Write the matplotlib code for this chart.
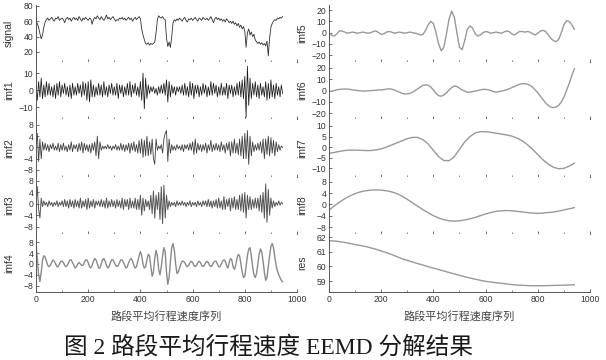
"""EEMD decomposition of road-segment mean travel speed (fig. 2 re-draw)."""
import matplotlib
matplotlib.use("Agg")
import matplotlib.pyplot as plt
import matplotlib.ticker as mticker
import numpy as np

# --- data ---------------------------------------------------------------
# left column: dense series sampled every 5 points
STEP_DENSE = 5
signal = [
    60, 57, 52, 44, 37, 42, 52, 59, 62, 64,
    61, 63, 65, 62, 60, 64, 63, 66, 61, 63,
    64, 62, 58, 63, 65, 62, 64, 60, 63, 65,
    62, 64, 61, 66, 63, 60, 64, 62, 65, 63,
    61, 64, 63, 56, 62, 65, 63, 67, 64, 62,
    66, 63, 61, 64, 68, 63, 65, 62, 64, 66,
    63, 60, 62, 61, 64, 63, 65, 62, 64, 61,
    63, 65, 62, 64, 60, 63, 65, 62, 64, 66,
    63, 50, 42, 36, 31, 30, 32, 29, 31, 30,
    31, 33, 45, 62, 67, 65, 64, 66, 63, 62,
    38, 27, 33, 26, 40, 58, 62, 60, 63, 61,
    64, 62, 60, 63, 65, 61, 59, 63, 62, 64,
    61, 63, 65, 62, 60, 64, 63, 61, 65, 63,
    62, 64, 61, 63, 66, 62, 58, 63, 65, 62,
    64, 61, 63, 60, 62, 59, 63, 61, 58, 60,
    57, 60, 56, 58, 54, 57, 52, 55, 50, 53,
    47, 26, 45, 50, 42, 46, 40, 43, 36, 33,
    31, 33, 30, 32, 29, 31, 28, 34, 15, 38,
    52, 57, 60, 62, 61, 64, 63, 65, 64, 66,
]
imf1 = [
    3, -6, 5, -4, 7, -5, 3, -4, 5, -3,
    4, -3, 2, -4, 3, -5, 4, -3, 5, -4,
    3, -2, 4, -3, 2, -4, 3, -5, 4, -3,
    2, -3, 4, -2, 3, -4, 5, -3, 4, -6,
    5, -7, 6, -4, 3, -4, 2, -3, 4, -3,
    3, -4, 5, -3, 2, -4, 3, -2, 4, -3,
    2, -3, 4, -5, 3, -2, 3, -4, 2, -3,
    4, -3, 5, -4, 3, -2, 4, -3, 2, -4,
    5, -6, 10, -11, 7, -5, 3, -2, 2, -1,
    2, -2, 1, -3, 2, -2, 3, -2, 4, -3,
    6, -7, 5, -4, 3, -2, 2, -3, 2, -1,
    2, -2, 3, -3, 4, -3, 2, -4, 5, -3,
    4, -5, 3, -2, 3, -4, 2, -3, 4, -2,
    3, -4, 2, -3, 5, -3, 4, -2, 3, -4,
    2, -3, 4, -3, 2, -3, 4, -5, 3, -2,
    3, -4, 2, -3, 4, -3, 5, -4, 6, -5,
    8, -16, 14, -9, 7, -5, 4, -3, 5, -4,
    3, -5, 4, -3, 2, -4, 5, -6, 4, -5,
    6, -4, 3, -5, 4, -3, 2, -4, 3, -2,
]
imf2 = [
    0, 5, -5, 3, -4, 2, -1, 1.5, -1, 1,
    -1.5, 1, -0.5, 1.5, -1, 0.5, -1, 1.5, -1.5, 1,
    -1, 1.5, -1, 0.5, -1.5, 1, -1, 2, -1.5, 1,
    -0.5, 1, -1.5, 1.5, -1, 2, -2, 1.5, -1, 1,
    -1.5, 1, -2, 1.5, -1, 2, -3, 4, -4, 2,
    -1, 0.5, -0.5, 0.5, -0.5, 1, -0.5, 0.5, -1, 0.5,
    -0.5, 1, -1, 0.5, -1, 1.5, -1, 1, -1.5, 1,
    -1, 1.5, -2, 1.5, -1, 2, -1.5, 1, -2, 2.5,
    -2, 3, -3.5, 2.5, -3, 4, -3, 2, -2.5, 3,
    -4, -6, 3, -1, 0.5, -0.5, 1, -2, 3, 5,
    6, -5, 3, -2, 1, -1, 0.5, -1, 1, -0.5,
    0.5, -1, 1, -1.5, 1, -0.5, 1, -1, 1.5, -1,
    2, -2.5, 3, -2, 1.5, -1, 1, -1.5, 1, -1,
    1.5, -2, 1, -1, 2.5, -1.5, 1, -1, 1.5, -1,
    1, -1.5, 2, -1, 1, -2, 1.5, -1, 2, -3,
    2, -2, 3, -2, 1.5, -2.5, 3, -3, 4, -4,
    5, -4, 6, -6, 4, -3, 2, -1.5, 1, -1,
    1.5, -1, 2, -2, 3, -4, 3, -2.5, 4, -3,
    3.5, -2, 2.5, -3, 2, -1.5, 1, -1, 0.5, 0,
]
imf3 = [
    0, 6, -2, -5, 2, -1, 1, -0.5, 0.5, -1,
    1, -0.5, 0.5, -1, 0.5, -0.5, 1, -1, 0.5, -0.5,
    1, -1, 1.5, -1, 1, -1.5, 1.5, -1, 1, -1.5,
    1.5, -1, 1, -1.5, 2, -1.5, 1, -1, 1.5, -2,
    2, -1.5, 1, -1, 1.5, -1.5, 1, -0.5, 1, -1,
    1.5, -1, 1, -1.5, 2, -1.5, 1, -1, 1.5, -1,
    1, -1.5, 1.5, -1, 1, -1.5, 2, -2, 1.5, -1,
    1.5, -2, 2, -1.5, 1, -1.5, 2, -2, 1.5, -2,
    3, -4, 2, -2.5, 1.5, -1, 1, -2, 3, -3.5,
    4.5, -5, 3, -2, 4, -5.5, 6, -7, 6.5, -5,
    3, -2, 1, -1, 0.5, -0.5, 0.5, -1, 1, -0.5,
    0.5, -0.5, 1, -0.5, 0.5, -1, 0.5, -0.5, 1, -1,
    0.5, -0.5, 0.5, -1, 1, -0.5, 0.5, -1, 1, -0.5,
    1, -1, 1.5, -1, 1, -1.5, 1, -1, 1.5, -1.5,
    2, -1.5, 1, -2, 2.5, -2, 1.5, -1, 2, -2.5,
    2, -1.5, 2.5, -2, 1.5, -2, 3, -2.5, 3.5, -3,
    4, -5, 3, -2, 2.5, -2, 1.5, -1.5, 2, -1.5,
    2, -2.5, 3, -3, 4, -5, 7, -6.5, 5, -4,
    2, -1.5, 1, -1, 0.5, -0.5, 1, -0.5, 0.5, 0,
]
imf4 = [
    7, 2, -4, -6.5, -3, 1.5, 3, 2.5, 1, -0.5,
    -1, -0.5, 0.5, 1.5, 1, 0, -1, -1, 0, 1,
    1, 0.5, -0.5, -1, -0.5, 0.5, 1.5, 1.5, 0.5, -0.5,
    -1.5, -1, 0, 0.5, 0, -0.5, -0.5, 0.5, 1.5, 1.5,
    0.5, -1, -1.5, -0.5, 1, 2, 1.5, 0, -1.5, -1.5,
    0, 1.5, 2, 1, -0.5, -1.5, -1, 0.5, 1.5, 1.5,
    0.5, -0.5, -1, -0.5, 0.5, 1.5, 1.5, 0.5, -0.5, -1.5,
    -1, 0.5, 1.5, 2, 1, -0.5, -1.5, -1, 1, 3,
    4.5, 3, 0, -1.5, -1, 1.5, 3.5, 3, -1, -4.5,
    -3, 2, 5, 3, -2, -4, -1, 3, 6, 4.5,
    -3, -7.5, -5, 1, 6, 7.5, 5, 0, -3.5, -3,
    -1.5, 0, 1, 1, 0.5, -0.5, -1, -0.5, 0.5, 1,
    0.5, -0.5, -1, -0.5, 0.5, 1, 0.5, -0.5, -1, -0.5,
    0.5, 1, 0.5, -0.5, -1, -0.5, 0.5, 1, 1, 0,
    -1, -1, 0, 1, 1.5, 1, -0.5, -1.5, 0.5, 2,
    1.5, -1, -2, -0.5, 2, 3.5, 3, 0, -3, -5,
    -4.5, -1, 3, 5.5, 6, 3, -1, -4, -5, -3.5,
    0, 3.5, 5.5, 4.5, 1, -3, -6, -5, -1, 3,
    6.5, 7.5, 6, 2.5, -0.5, -2.5, -4, -5, -6, -6.5,
]

# right column: smooth components
STEP_MID = 10
imf5 = [
    0, -2.5, -3, -1, 1.5, 1.5, 0.5, -0.5, 0, 0.5,
    0, -0.5, 0, 0.5, 0, -0.5, 0, 1, 1.5, 0,
    -1.5, -1, 0.5, 1, 0.5, -0.5, 0, 0.5, 0, -0.5,
    0, 0.5, 0, -0.5, -1, -2, -1.5, 2, 7, 10,
    8, 0, -10, -16, -13, -1, 12, 19, 14, 0,
    -13, -15, -7, 3, 6, 4, -1, -3, -2, 0,
    1, 0.5, -0.5, 0, 0.5, 0, -0.5, 0.5, 1.5, 1,
    -1, -2, -0.5, 1, 1, 0.5, 1, 0.5, -1, -2,
    -0.5, 1.5, 2, 1, -2, -5, -7, -8, -6, 0,
    7, 10.5, 10, 7, 3,
]
imf6 = [
    -1, -0.5, 0, 0.5, 1, 1.2, 1.3, 1.2, 1, 0.5,
    0.2, 0, -0.3, -0.5, -0.5, -0.3, 0, 0, 0.2, 0.5,
    0.5, 0.8, 1.2, 1.5, 1.2, 0.5, -0.5, -1.5, -2.5, -3,
    -3, -2.5, -1.5, 0, 1.5, 3, 4.5, 5, 4.5, 3,
    0.5, -2.5, -4.5, -5, -4, -2, 0.5, 2.5, 4, 3.5,
    2, 0.5, -0.5, -1.5, -1.5, -1, -0.5, 0, 0.5, 1,
    1, 0.5, 0, -1, -1.5, -1, -0.5, 0, 0.5, 1.5,
    2.5, 3.5, 4.5, 5.5, 6, 6, 5.5, 4.5, 3, 0.5,
    -2, -5, -8, -11, -13, -14.5, -15, -14.5, -13, -10,
    -6, 0, 6, 13, 19,
]
STEP_SLOW = 20
imf7 = [
    -3, -2.5, -2, -1.6, -1.4, -1.4, -1.5, -1.6, -1.6, -1.3,
    -0.8, 0, 1, 2, 3, 4, 4.6, 4.6, 3.5, 1.5,
    -1.5, -4.5, -6.3, -6.4, -4.5, -1, 2.5, 5, 6.7, 7.3,
    7.3, 7, 6.6, 6.2, 5.8, 5.2, 4.3, 3, 1.2, -1,
    -3.5, -6, -8, -9.5, -10.2, -10, -9, -7.6,
]
imf8 = [
    -2, -0.5, 0.8, 2, 3, 3.8, 4.4, 4.8, 5, 5.1,
    5, 4.8, 4.4, 3.8, 2.9, 1.8, 0.6, -0.6, -1.8, -2.9,
    -3.9, -4.7, -5.3, -5.7, -5.8, -5.7, -5.4, -5, -4.5, -3.9,
    -3.3, -2.8, -2.4, -2.2, -2.1, -2.2, -2.4, -2.6, -2.8, -3,
    -3.1, -3, -2.8, -2.6, -2.3, -1.9, -1.5, -1.1,
]
res = [
    61.77, 61.75, 61.71, 61.65, 61.58, 61.50, 61.44, 61.37, 61.28, 61.18,
    61.07, 60.95, 60.82, 60.68, 60.53, 60.42, 60.31, 60.20, 60.10, 59.99,
    59.89, 59.79, 59.69, 59.59, 59.49, 59.39, 59.30, 59.21, 59.13, 59.05,
    58.98, 58.93, 58.89, 58.85, 58.80, 58.76, 58.73, 58.71, 58.69, 58.68,
    58.68, 58.68, 58.69, 58.70, 58.71, 58.72, 58.73, 58.75,
]

X_LABEL = "路段平均行程速度序列"
CAPTION = "图 2 路段平均行程速度 EEMD 分解结果"

# (name, values, step, yticks, ylim, colour, linewidth)
LEFT = [
    ("signal", signal, STEP_DENSE, [20, 40, 60, 80], (7, 81), "#303030", 0.6),
    ("imf1", imf1, STEP_DENSE, [-10, 0, 10], (-17, 16.5), "#1a1a1a", 0.55),
    ("imf2", imf2, STEP_DENSE, [-8, -4, 0, 4, 8], (-10.5, 10.1), "#404040", 0.6),
    ("imf3", imf3, STEP_DENSE, [-8, -4, 0, 4, 8], (-10.6, 9.4), "#555555", 0.7),
    ("imf4", imf4, STEP_DENSE, [-8, -4, 0, 4, 8], (-10.3, 11), "#8a8a8a", 1.0),
]
RIGHT = [
    ("imf5", imf5, STEP_MID, [-20, -10, 0, 10, 20], (-26, 24.5), "#999999", 1.0),
    ("imf6", imf6, STEP_MID, [-20, -10, 0, 10, 20], (-25, 25), "#999999", 1.0),
    ("imf7", imf7, STEP_SLOW, [-10, -5, 0, 5, 10], (-14.1, 13.3), "#999999", 1.0),
    ("imf8", imf8, STEP_SLOW, [-8, -4, 0, 4, 8], (-10.3, 9.6), "#999999", 1.0),
    ("res", res, STEP_SLOW, [59, 60, 61, 62], (58.25, 62.23), "#999999", 1.0),
]

W, H = 606, 360
ROW_EDGES = [5, 62, 119, 177, 234, 292]   # pixel rows, top to bottom
COL_X = [36, 329]
COL_W = 261
CJK = ["Liberation Sans", "Noto Sans CJK SC"]
CJK_SERIF = ["Liberation Serif", "Noto Sans CJK SC"]


def draw_column(fig, rows, x0):
    axes = []
    for i, (name, vals, step, yt, ylim, color, lw) in enumerate(rows):
        top, bot = ROW_EDGES[i], ROW_EDGES[i + 1]
        ax = fig.add_axes([x0 / W, 1 - bot / H, COL_W / W, (bot - top) / H])
        xs = np.arange(len(vals)) * step
        ax.plot(xs, vals, color=color, linewidth=lw)
        ax.set_xlim(0, 1000)
        ax.set_ylim(*ylim)
        ax.set_yticks(yt)
        ax.xaxis.set_major_locator(mticker.MultipleLocator(200))
        ax.xaxis.set_minor_locator(mticker.MultipleLocator(100))
        for s in ("top", "right"):
            ax.spines[s].set_visible(False)
        for s in ("left", "bottom"):
            ax.spines[s].set_color("#555555")
            ax.spines[s].set_linewidth(0.7)
        ax.tick_params(direction="in", length=2.5, width=0.6, colors="#555555",
                       labelsize=6.2, labelcolor="#333333", pad=2)
        ax.tick_params(which="minor", direction="in", length=1.5, width=0.5,
                       colors="#555555")
        ax.set_ylabel(name, fontsize=7.5, color="#333333")
        ax.yaxis.set_label_coords(-0.085, 0.5)
        if i < len(rows) - 1:
            ax.tick_params(labelbottom=False)
        else:
            ax.set_xlabel(X_LABEL, fontsize=8, color="#444444",
                          family=CJK, labelpad=5)
        axes.append(ax)
    return axes


def main():
    plt.rcParams["font.family"] = ["Liberation Sans", "DejaVu Sans"]
    fig = plt.figure(figsize=(W / 100, H / 100), dpi=100)
    draw_column(fig, LEFT, COL_X[0])
    draw_column(fig, RIGHT, COL_X[1])
    fig.text(268 / W, 1 - 347 / H, CAPTION, ha="center", va="center",
             fontsize=17, color="#1a1a1a", family=CJK_SERIF)
    fig.savefig("out.png", dpi=100)
    plt.close(fig)


if __name__ == "__main__":
    main()
